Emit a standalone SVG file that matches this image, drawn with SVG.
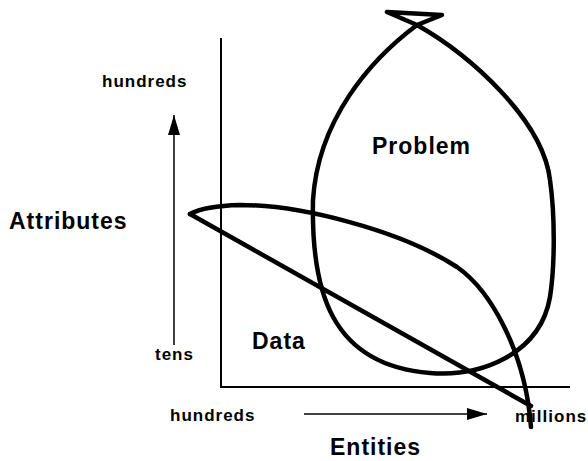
<svg xmlns="http://www.w3.org/2000/svg" width="588" height="461" viewBox="0 0 588 461">
<style>
text{font-family:"Liberation Sans",Arial,sans-serif;font-weight:bold;fill:#000;letter-spacing:1px}
.s{font-size:17px}
.l{font-size:23px}
.hand{fill:none;stroke:#000;stroke-width:4.5;stroke-linecap:round;stroke-linejoin:round}
.axis{fill:none;stroke:#000;stroke-width:2}
.thin{fill:none;stroke:#000;stroke-width:1.5}
</style>
<defs>
<marker id="ah" viewBox="0 0 20 12" refX="20" refY="6" markerWidth="20" markerHeight="12" markerUnits="userSpaceOnUse" orient="auto">
<path d="M0,0 L20,6 L0,12 Z" fill="#000"/>
</marker>
</defs>
<g id="axes">
<path class="axis" d="M221,38 V387 H570"/>
<path class="thin" d="M174,345 V115" marker-end="url(#ah)"/>
<path class="thin" d="M304,414 H487" marker-end="url(#ah)"/>
<text class="s" x="102" y="87">hundreds</text>
<text class="l" x="9" y="229">Attributes</text>
<text class="s" x="155" y="360">tens</text>
<text class="s" x="170" y="421">hundreds</text>
<text class="s" x="515" y="422">millions</text>
<text class="l" x="330" y="455">Entities</text>
</g>
<g id="problem">
<path class="hand" d="M387,12 L442,15 L417,25 C370,60 318,120 313,200 C311,290 330,365 430,373 C480,377 540,355 550,297 C555,265 555,215 550,180 C543,120 470,55 417,25 L387,12 Z"/>
<text class="l" x="372" y="154">Problem</text>
</g>
<g id="data">
<path class="hand" d="M190,214 Q205,206 240,205 C300,205 400,230 457,267 C490,290 525,350 531,427"/>
<path class="hand" d="M190,214 L531,406"/>
<text class="l" x="252" y="349">Data</text>
</g>
</svg>
